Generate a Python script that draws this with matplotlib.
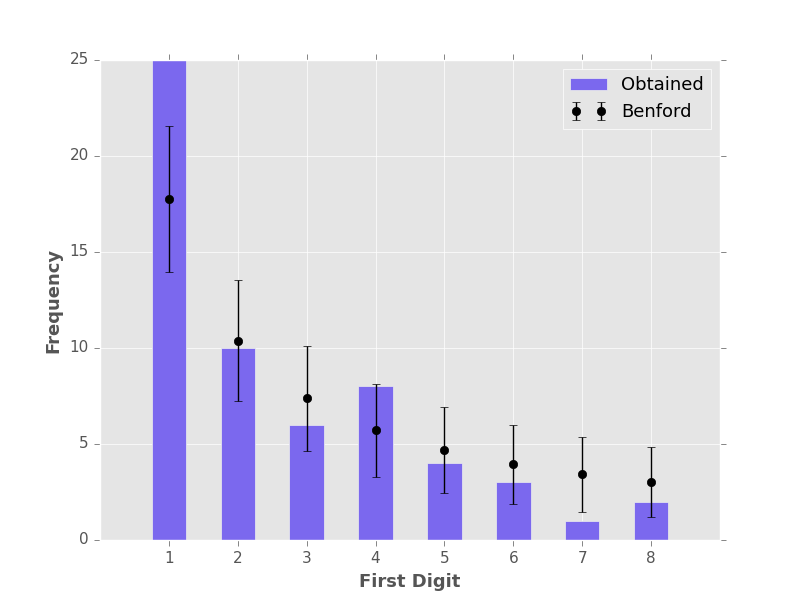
import numpy as np
import matplotlib
matplotlib.use('Agg')
import matplotlib.pyplot as plt

plt.style.use('classic')
plt.style.use('ggplot')

digits = [1, 2, 3, 4, 5, 6, 7, 8]
obtained = [25, 10, 6, 8, 4, 3, 1, 2]
benford = [17.76, 10.39, 7.37, 5.72, 4.67, 3.95, 3.42, 3.02]
benford_err = [3.8, 3.15, 2.73, 2.42, 2.24, 2.06, 1.95, 1.82]

fig = plt.figure(figsize=(8, 6), dpi=100)
ax = fig.add_subplot(111)
ax.bar(digits, obtained, width=0.5, align='center', color='#7B68EE',
       edgecolor='#EEEEEE', linewidth=0.5, label='Obtained')
ax.errorbar(digits, benford, yerr=benford_err, fmt='o', color='black',
            ecolor='black', markersize=6, capsize=3, label='Benford')

ax.set_xlim(0, 9)
ax.set_ylim(0, 25)
ax.set_xticks(digits)
ax.set_yticks([0, 5, 10, 15, 20, 25])
ax.set_xlabel('First Digit', fontsize=13, fontweight='bold', color='#555555')
ax.set_ylabel('Frequency', fontsize=13, fontweight='bold', color='#555555')
ax.tick_params(labelsize=11, colors='#555555', direction='out', top=True, right=True)
ax.legend(loc='upper right', numpoints=2, fontsize=13, frameon=True)

plt.savefig('out.png', dpi=100)
